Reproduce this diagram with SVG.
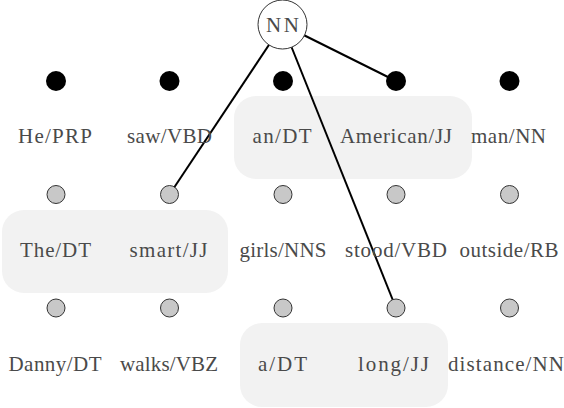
<svg xmlns="http://www.w3.org/2000/svg" width="564" height="408" viewBox="0 0 564 408">
<style>
.grp{fill:#f2f2f2;stroke:none}
.lbl{font-family:'Liberation Serif','DejaVu Serif',serif;font-size:21px;fill:#4a4a4a;text-anchor:middle}
.blk{fill:#000}
.gry{fill:#c8c8c8;stroke:#333;stroke-width:1}
.edge{stroke:#000;stroke-width:2;fill:none}
.root{fill:#fff;stroke:#333;stroke-width:1}
</style>
<g id="groups">
<rect class="grp" x="234" y="96" width="238" height="83" rx="22"/>
<rect class="grp" x="2" y="210" width="226" height="83" rx="22"/>
<rect class="grp" x="240" y="323" width="208" height="84" rx="22"/>
</g>
<g id="connectors">
<line class="edge" x1="282.5" y1="24.5" x2="169.5" y2="194.5"/>
<line class="edge" x1="282.5" y1="24.5" x2="396" y2="308"/>
<line class="edge" x1="282.5" y1="24.5" x2="396" y2="81"/>
</g>
<g id="root-NN"><circle class="root" cx="282.5" cy="24.5" r="24.5"/><text class="lbl" font-family="Liberation Serif, serif" x="282.5" y="31.5" textLength="33" lengthAdjust="spacing">NN</text></g>
<g id="n-He"><circle class="blk" cx="56" cy="81" r="10"/><text class="lbl" x="55" y="143" textLength="74" lengthAdjust="spacing">He/PRP</text></g>
<g id="n-saw"><circle class="blk" cx="169.5" cy="81" r="10"/><text class="lbl" x="169.5" y="143" textLength="85" lengthAdjust="spacing">saw/VBD</text></g>
<g id="n-an"><circle class="blk" cx="283" cy="81" r="10"/><text class="lbl" x="282" y="143" textLength="59" lengthAdjust="spacing">an/DT</text></g>
<g id="n-American"><circle class="blk" cx="396" cy="81" r="10"/><text class="lbl" x="396" y="143" textLength="112" lengthAdjust="spacing">American/JJ</text></g>
<g id="n-man"><circle class="blk" cx="509.5" cy="81" r="10"/><text class="lbl" x="508.5" y="143" textLength="75" lengthAdjust="spacing">man/NN</text></g>
<g id="n-The"><circle class="gry" cx="56" cy="194.5" r="9"/><text class="lbl" x="55.5" y="256.5" textLength="71" lengthAdjust="spacing">The/DT</text></g>
<g id="n-smart"><circle class="gry" cx="169.5" cy="194.5" r="9"/><text class="lbl" x="168.5" y="256.5" textLength="78" lengthAdjust="spacing">smart/JJ</text></g>
<g id="n-girls"><circle class="gry" cx="283" cy="194.5" r="9"/><text class="lbl" x="283" y="256.5" textLength="87" lengthAdjust="spacing">girls/NNS</text></g>
<g id="n-stood"><circle class="gry" cx="396" cy="194.5" r="9"/><text class="lbl" x="396" y="256.5" textLength="102" lengthAdjust="spacing">stood/VBD</text></g>
<g id="n-outside"><circle class="gry" cx="509.5" cy="194.5" r="9"/><text class="lbl" x="509" y="256.5" textLength="99" lengthAdjust="spacing">outside/RB</text></g>
<g id="n-Danny"><circle class="gry" cx="56" cy="308" r="9"/><text class="lbl" x="55" y="370.5" textLength="93" lengthAdjust="spacing">Danny/DT</text></g>
<g id="n-walks"><circle class="gry" cx="169.5" cy="308" r="9"/><text class="lbl" x="169" y="370.5" textLength="98" lengthAdjust="spacing">walks/VBZ</text></g>
<g id="n-a"><circle class="gry" cx="283" cy="308" r="9"/><text class="lbl" x="282.5" y="370.5" textLength="49" lengthAdjust="spacing">a/DT</text></g>
<g id="n-long"><circle class="gry" cx="396" cy="308" r="9"/><text class="lbl" x="393.5" y="370.5" textLength="71" lengthAdjust="spacing">long/JJ</text></g>
<g id="n-distance"><circle class="gry" cx="509.5" cy="308" r="9"/><text class="lbl" x="506" y="370.5" textLength="116" lengthAdjust="spacing">distance/NN</text></g>
</svg>
